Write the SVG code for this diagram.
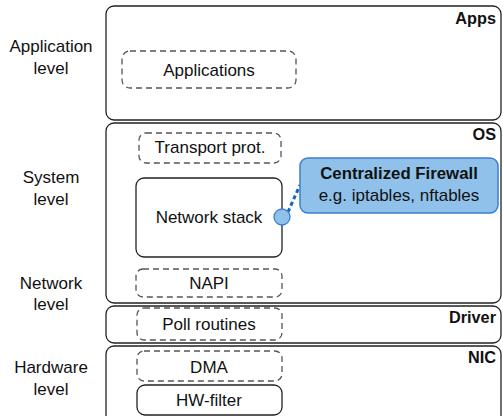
<svg xmlns="http://www.w3.org/2000/svg" width="503" height="416" viewBox="0 0 503 416">
<style>
.layer{fill:#fff;stroke:#222;stroke-width:1.3}
.dash{fill:#fff;stroke:#555;stroke-width:1.3;stroke-dasharray:6 4}
.solid{fill:#fff;stroke:#222;stroke-width:1.3}
text{font-family:"Liberation Sans",Arial,sans-serif;fill:#111}
.t{font-size:17px;text-anchor:middle}
.b{font-size:16.3px;font-weight:bold;text-anchor:end}
.lv{font-size:17px;text-anchor:middle}
</style>
<rect width="503" height="416" fill="#fff"/>
<g id="labels">
<text class="lv" x="51" y="52">Application</text>
<text class="lv" x="51" y="74">level</text>
<text class="lv" x="51" y="183">System</text>
<text class="lv" x="51" y="205">level</text>
<text class="lv" x="51" y="289">Network</text>
<text class="lv" x="51" y="310">level</text>
<text class="lv" x="51" y="373">Hardware</text>
<text class="lv" x="51" y="395">level</text>
</g>
<g id="apps">
<rect class="layer" x="106" y="6" width="395" height="114" rx="8"/>
<text class="b" x="496" y="24">Apps</text>
</g>
<g id="os">
<rect class="layer" x="106" y="123" width="395" height="180" rx="8"/>
<text class="b" x="496" y="140">OS</text>
</g>
<g id="driver">
<rect class="layer" x="106" y="306" width="395" height="37" rx="8"/>
<text class="b" x="496" y="323">Driver</text>
</g>
<g id="nic">
<rect class="layer" x="106" y="346" width="395" height="80" rx="8"/>
<text class="b" x="496" y="363">NIC</text>
</g>
<g id="applications">
<rect class="dash" x="122" y="51" width="174" height="37" rx="8"/>
<text class="t" x="209" y="76">Applications</text>
</g>
<g id="transport">
<rect class="dash" x="139" y="133" width="142" height="30" rx="7"/>
<text class="t" x="210" y="153">Transport prot.</text>
</g>
<g id="netstack">
<rect class="solid" x="136" y="178" width="146" height="79" rx="8"/>
<text class="t" x="209" y="223">Network stack</text>
</g>
<g id="napi">
<rect class="dash" x="136" y="269" width="146" height="28" rx="7"/>
<text class="t" x="209" y="289">NAPI</text>
</g>
<g id="poll">
<rect class="dash" x="137" y="308" width="145" height="32" rx="7"/>
<text class="t" x="209" y="330">Poll routines</text>
</g>
<g id="dma">
<rect class="dash" x="137" y="351" width="145" height="30" rx="7"/>
<text class="t" x="209" y="373">DMA</text>
</g>
<g id="hwfilter">
<rect class="solid" x="137" y="385" width="145" height="30" rx="8"/>
<text class="t" x="209" y="406">HW-filter</text>
</g>
<g id="connectors">
<line x1="288" y1="212" x2="300" y2="185" stroke="#1464c0" stroke-width="3" stroke-dasharray="4 3"/>
</g>
<g id="firewall">
<rect x="300" y="158" width="198" height="55" rx="8" fill="#8fc1ea" stroke="#3b7fd0" stroke-width="1.5"/>
<text x="399" y="179" style="font-size:16.8px;font-weight:bold;text-anchor:middle">Centralized Firewall</text>
<text x="399" y="201" style="font-size:17px;text-anchor:middle">e.g. iptables, nftables</text>
</g>
<g id="hook">
<circle cx="282" cy="217" r="8" fill="#8fc1ea" stroke="#3b7fd0" stroke-width="1.3"/>
</g>
</svg>
